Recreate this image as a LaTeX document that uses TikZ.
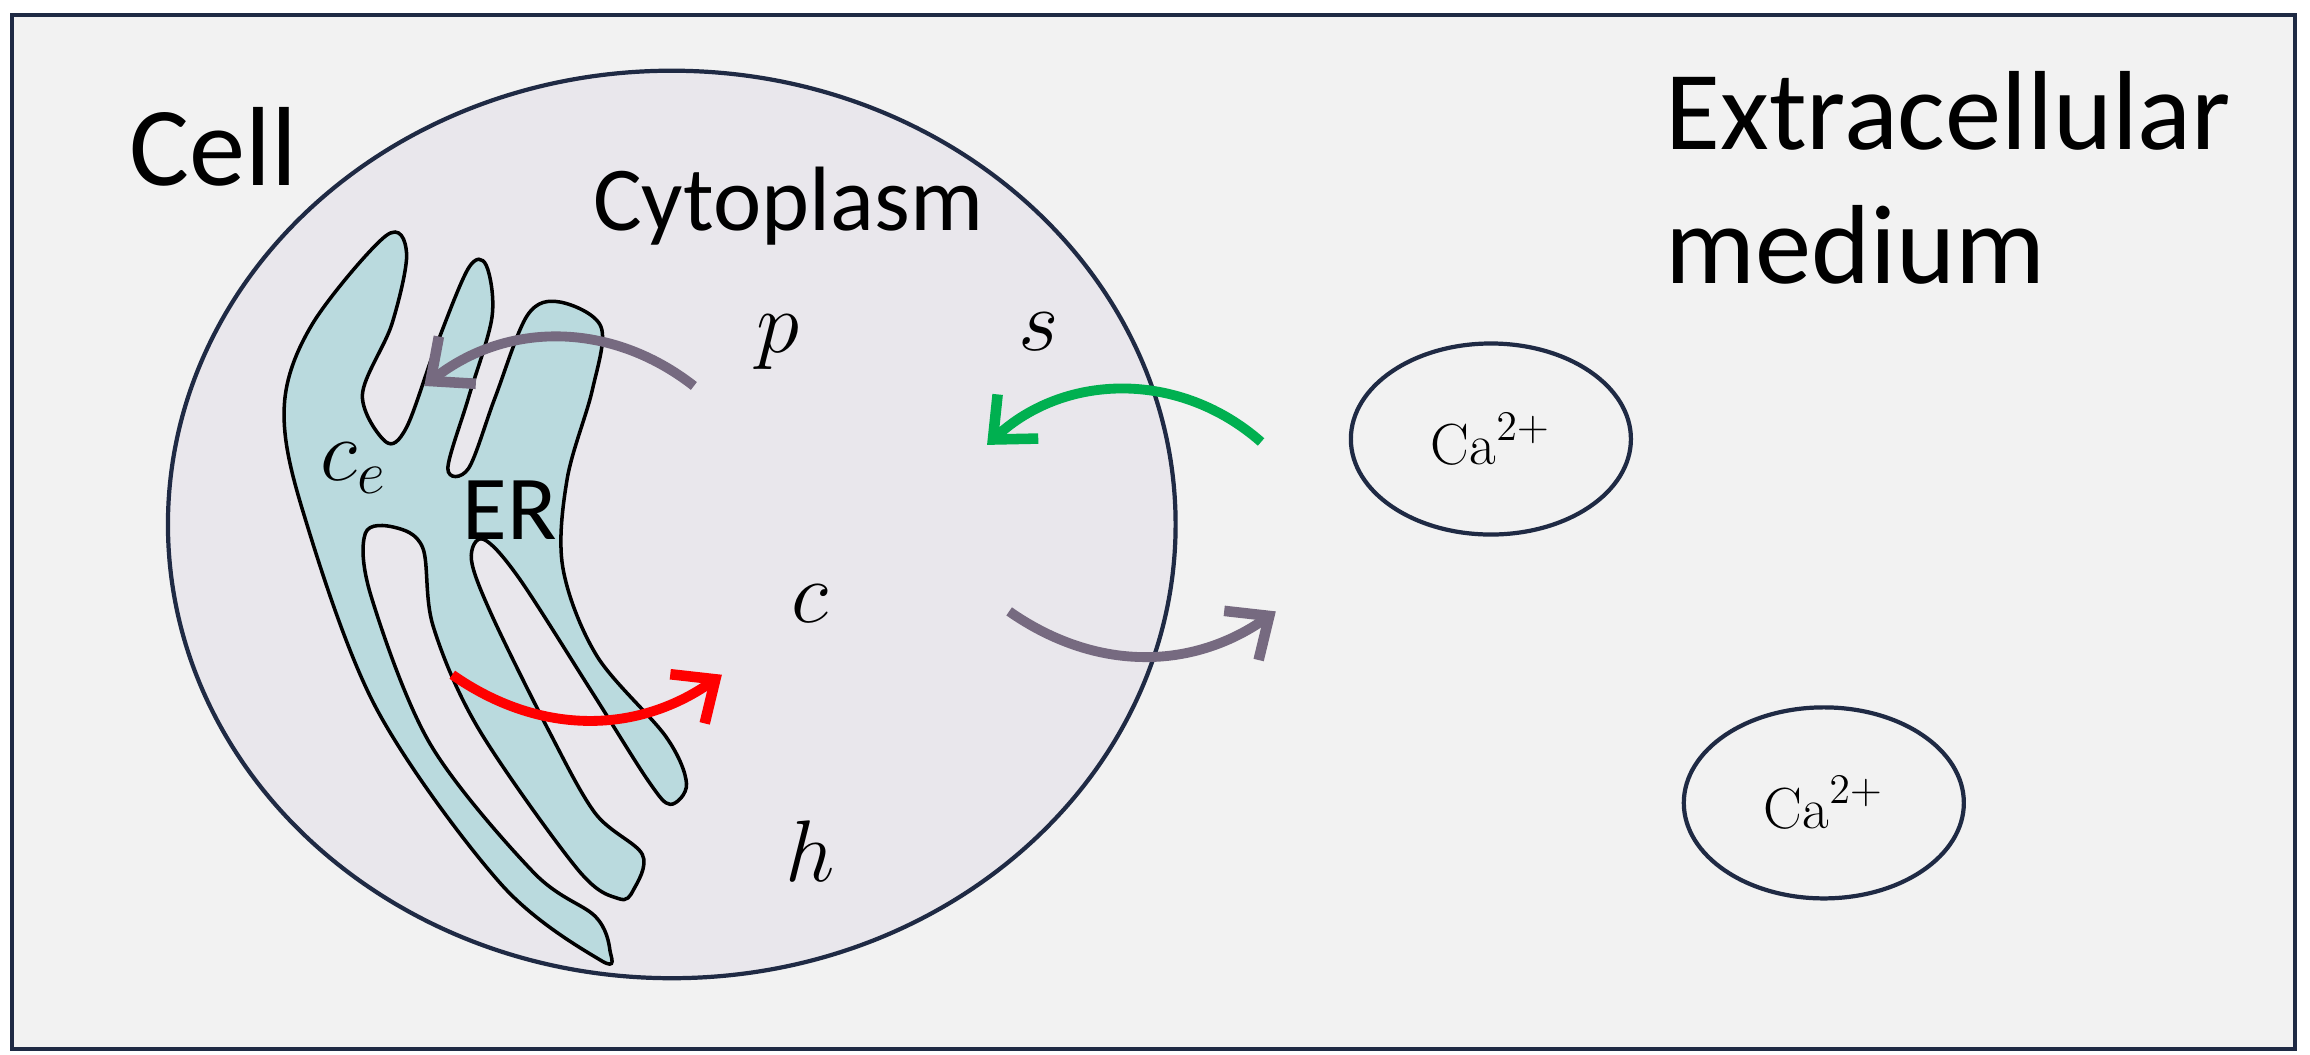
\documentclass[tikz,border=0pt]{standalone}
\usepackage{fontspec}
\setsansfont{Carlito}
\usetikzlibrary{positioning,shapes.geometric,arrows.meta}
\definecolor{framenavy}{RGB}{31,42,68}
\definecolor{mediumgray}{RGB}{242,242,242}
\definecolor{cellgray}{RGB}{233,231,236}
\definecolor{erblue}{RGB}{186,218,222}
\definecolor{fluxgray}{RGB}{118,106,128}
\definecolor{fluxgreen}{RGB}{0,176,80}
\definecolor{fluxred}{RGB}{255,0,0}
\begin{document}
\begin{tikzpicture}[
    x=0.1473mm, y=-0.1473mm,
    flux/.style={line width=2.8pt, -{Straight Barb[length=3.4mm,width=6mm,line width=3pt]}},
    bigsans/.style={font=\sffamily\fontsize{32}{38}\selectfont, align=left},
    midsans/.style={font=\sffamily\fontsize{26}{30}\selectfont},
    var/.style={font=\fontsize{25}{28}\selectfont},
    ion/.style={ellipse, draw=framenavy, line width=1.2pt, minimum width=28mm,
        minimum height=19.1mm, font=\fontsize{16.5}{19}\selectfont}
]
\useasboundingbox (0,0) rectangle (1568,716);

% medium and cell
\draw[framenavy, line width=1.2pt, fill=mediumgray] (8,10) rectangle (1558,712);
\draw[framenavy, line width=1.2pt, fill=cellgray] (456,356) ellipse [x radius=342, y radius=308];

% endoplasmic reticulum
\draw[black, line width=1pt, fill=erblue] plot[smooth cycle, tension=0.55] coordinates {
    (408,652) (340,600) (255,480) (205,345) (193,275) (212,220) (262,160)
    (276,172) (266,220) (246,268) (262,300) (276,290) (296,235) (318,182)
    (330,180) (334,215) (318,270) (304,318) (318,318) (336,270) (358,214)
    (380,205) (408,222) (402,265) (385,325) (382,385) (405,445) (452,500)
    (466,532) (455,546) (440,530) (402,470) (352,392) (328,366) (320,380)
    (334,418) (372,495) (404,552) (436,580) (430,604) (420,610) (392,590)
    (325,495) (294,425) (287,372) (268,358) (248,362) (252,405) (292,505)
    (362,592) (404,622) (414,645)};

% labels
\node[bigsans] (cell) at (145,100) {Cell};
\node[midsans] (cyto) at (535,140) {Cytoplasm};
\node[bigsans, anchor=north west] (extra) at (1122,40) {Extracellular\\medium};
\node[var] (p) at (528,232) {$p$};
\node[var] (s) at (705,225) {$s$};
\node[var] (c) at (550,410) {$c$};
\node[var] (h) at (550,578) {$h$};
\node[var] (ce) at (240,318) {$c_e$};
\node[midsans] (er) at (346,346) {ER};
\node[ion] (ca1) at (1012,298) {$\mathrm{Ca}^{2+}$};
\node[ion] (ca2) at (1238,545) {$\mathrm{Ca}^{2+}$};

% fluxes
\coordinate (pout) at (471,262);
\coordinate (pin) at (288,262);
\coordinate (sin) at (856,300);
\coordinate (sout) at (670,302);
\coordinate (cout) at (685,415);
\coordinate (cin) at (866,415);
\coordinate (erout) at (307,458);
\coordinate (erin) at (490,458);
\draw[flux, fluxgray] (pout) to[bend right=38] (pin);
\draw[flux, fluxgreen] (sin) to[bend right=42] (sout);
\draw[flux, fluxgray] (cout) to[bend right=35] (cin);
\draw[flux, fluxred] (erout) to[bend right=35] (erin);
\end{tikzpicture}
\end{document}
